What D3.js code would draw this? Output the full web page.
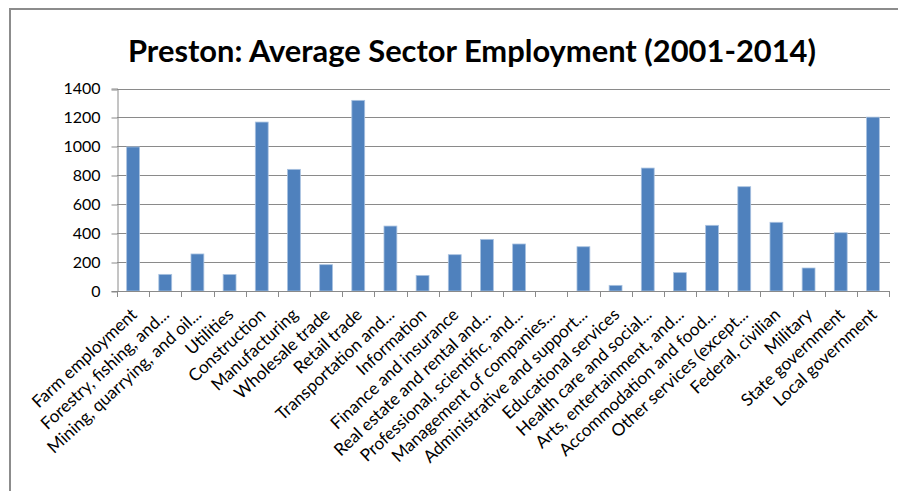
<!DOCTYPE html>
<html>
<head>
<meta charset="utf-8">
<script src="https://cdn.jsdelivr.net/npm/d3@7"></script>
<style>
  html, body { margin: 0; padding: 0; background: #fff; }
  svg { display: block; }
  text { font-family: "Lato", "Open Sans", sans-serif; fill: #000; }
</style>
</head>
<body>
<svg id="chart" width="898" height="491"></svg>
<script>
// Average employment per sector, Preston, 2001-2014
const titleText = "Preston: Average Sector Employment (2001-2014)";

const sectors = [
  "Farm employment",
  "Forestry, fishing, and...",
  "Mining, quarrying, and oil...",
  "Utilities",
  "Construction",
  "Manufacturing",
  "Wholesale trade",
  "Retail trade",
  "Transportation and...",
  "Information",
  "Finance and insurance",
  "Real estate and rental and...",
  "Professional, scientific, and...",
  "Management of companies...",
  "Administrative and support...",
  "Educational services",
  "Health care and social...",
  "Arts, entertainment, and...",
  "Accommodation and food...",
  "Other services (except...",
  "Federal, civilian",
  "Military",
  "State government",
  "Local government"
];

const employment = [
  996, 115, 256, 114, 1168, 841, 182, 1318,
  449, 108, 251, 357, 325, 0, 306, 39,
  850, 127, 454, 721, 475, 159, 403, 1202
];

const yTicks = [0, 200, 400, 600, 800, 1000, 1200, 1400];

const svg = d3.select("#chart");

// Chart frame
svg.append("path")
  .attr("d", "M10,491 L10,9 L898,9")
  .attr("fill", "none")
  .attr("stroke", "#8c8c8c")
  .attr("stroke-width", 2);

const plot = { left: 117, right: 889, top: 88.5, bottom: 291 };

const x = d3.scaleBand()
  .domain(sectors)
  .range([plot.left, plot.right])
  .paddingInner(0.6)
  .paddingOuter(0.3);

const xTickScale = d3.scaleLinear()
  .domain([0, sectors.length])
  .range([plot.left, plot.right]);

const y = d3.scaleLinear()
  .domain([0, 1400])
  .range([plot.bottom, plot.top]);

// Horizontal gridlines
svg.append("g")
  .selectAll("line")
  .data(yTicks.filter(t => t > 0))
  .join("line")
  .attr("x1", plot.left)
  .attr("x2", plot.right + 1)
  .attr("y1", d => Math.round(y(d)) + 0.5)
  .attr("y2", d => Math.round(y(d)) + 0.5)
  .attr("stroke", "#8a8a8a")
  .attr("stroke-width", 1);

// Y axis
const yAxis = d3.axisLeft(y)
  .tickValues(yTicks)
  .tickSize(6)
  .tickPadding(11)
  .tickFormat(d3.format("d"));

const gy = svg.append("g")
  .attr("transform", `translate(${plot.left + 0.5},0)`)
  .call(yAxis);
gy.select(".domain").attr("stroke", "#8a8a8a");
gy.selectAll(".tick line").attr("stroke", "#8a8a8a")
  .attr("transform", d => `translate(0,${Math.round(y(d)) + 0.5 - y(d)})`);
gy.selectAll(".tick text")
  .style("font-size", "16px")
  .attr("fill", "#000");

// Bars
svg.append("g")
  .selectAll("rect")
  .data(sectors.map((s, i) => ({ s, v: employment[i] })).filter(d => d.v > 0))
  .join("rect")
  .attr("x", d => x(d.s))
  .attr("y", d => y(d.v))
  .attr("width", x.bandwidth())
  .attr("height", d => y(0) - y(d.v))
  .attr("fill", "#4f81bd")
  .attr("stroke", "#a9c2e0")
  .attr("stroke-width", 0.8);

// X axis line and category separators
const gx = svg.append("g");
gx.append("line")
  .attr("x1", plot.left)
  .attr("x2", plot.right + 1)
  .attr("y1", plot.bottom + 0.5)
  .attr("y2", plot.bottom + 0.5)
  .attr("stroke", "#8a8a8a");
gx.selectAll("line.sep")
  .data(d3.range(sectors.length + 1))
  .join("line")
  .attr("class", "sep")
  .attr("x1", d => Math.round(xTickScale(d)) + 0.5)
  .attr("x2", d => Math.round(xTickScale(d)) + 0.5)
  .attr("y1", plot.bottom)
  .attr("y2", plot.bottom + 6)
  .attr("stroke", "#8a8a8a");

// Rotated category labels
const labels = svg.append("g")
  .selectAll("text")
  .data(sectors)
  .join("text")
  .attr("text-anchor", "end")
  .attr("transform", d => `translate(${x(d) + x.bandwidth() / 2 + 5},${plot.bottom + 25}) rotate(-43)`)
  .style("font-size", "15px")
  .text(d => d);

// Fit label size so "Farm employment" spans its measured length
const ref = labels.filter(d => d === "Farm employment").node();
const refLen = ref.getComputedTextLength();
const labelSize = 15 * 136 / refLen;
labels.style("font-size", labelSize.toFixed(2) + "px");

// Title
const title = svg.append("text")
  .attr("x", 472)
  .attr("y", 62)
  .attr("text-anchor", "middle")
  .style("font-weight", "bold")
  .style("font-size", "30px")
  .text(titleText);
const tLen = title.node().getComputedTextLength();
title.style("font-size", (30 * 688 / tLen).toFixed(2) + "px");
</script>
</body>
</html>
